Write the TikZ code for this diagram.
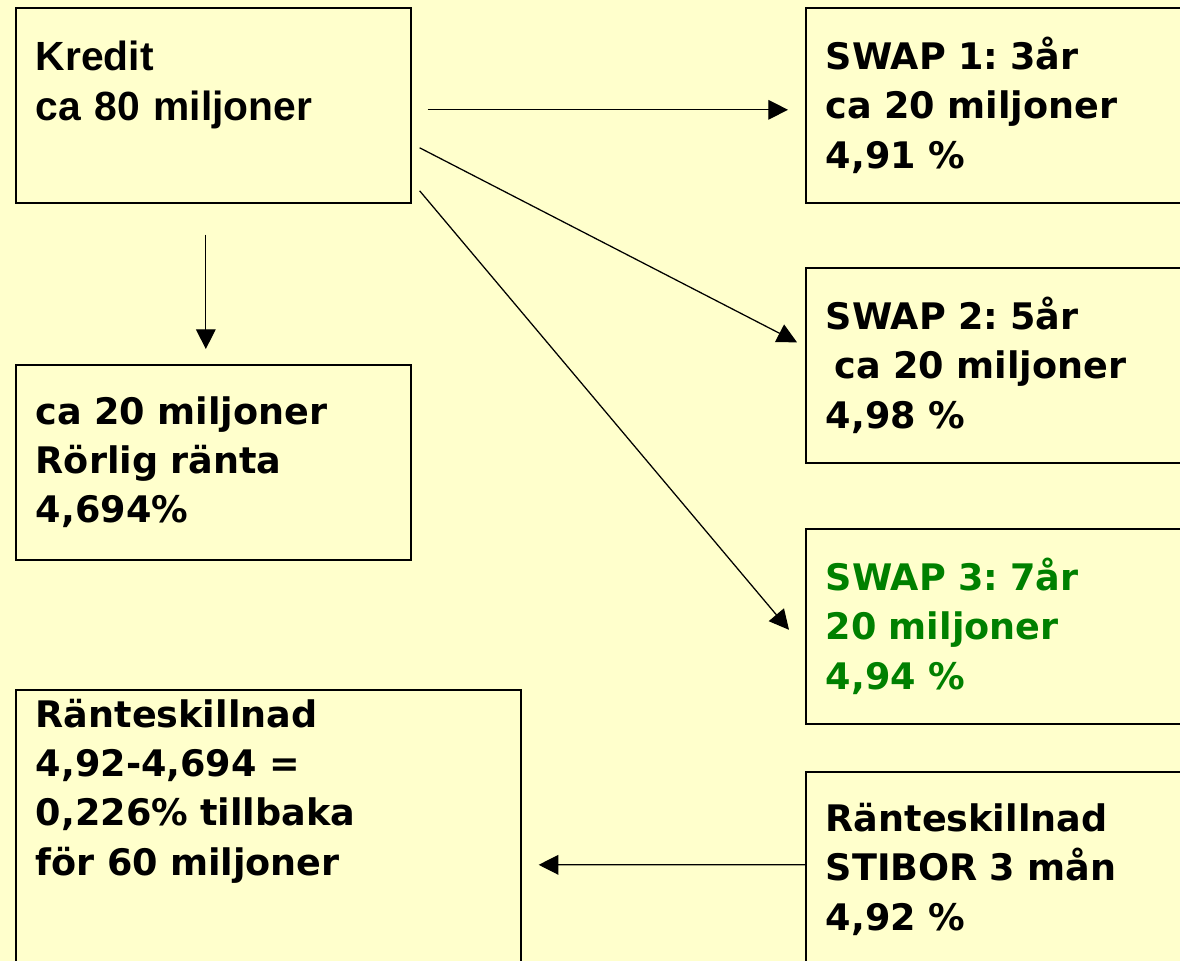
\documentclass[tikz,border=0pt]{standalone}
\usepackage{fontspec}
\setmainfont{DejaVu Sans}
\newfontfamily\kreditfont{Liberation Sans}
\usetikzlibrary{arrows.meta}
\definecolor{paper}{RGB}{255,255,204}
\definecolor{swapgreen}{RGB}{0,128,0}
\frenchspacing

\begin{document}
\begin{tikzpicture}[
    x=0.025cm, y=-0.025cm,
    box/.style={
        rectangle,
        draw=black,
        fill=paper,
        line width=1.1pt,
        anchor=north west,
        inner xsep=0.5cm,
        inner ysep=0pt,
        minimum height=4.875cm,
        text width=9cm,
        align=left,
        font=\fontsize{26}{35}\selectfont\bfseries
    },
    arrow/.style={-{Triangle[length=14pt,width=14pt]}, line width=0.9pt}
]

\fill[paper] (0,0) rectangle (1180,961);
\useasboundingbox (0,0) rectangle (1180,961);

\node[box, text width=8.875cm,
      font=\kreditfont\fontsize{29}{35.6}\selectfont\bfseries] (kredit) at (15,7)
    {Kredit\\ca 80 miljoner\\ \mbox{}};

\node[box] (swapA) at (805,7) {SWAP 1: 3år\\ca 20 miljoner\\4,91 \%};
\node[box] (swapB) at (805,267) {SWAP 2: 5år\\\hspace{0.25em}ca 20 miljoner\\4,98 \%};
\node[box, text=swapgreen] (swapC) at (805,528) {SWAP 3: 7år\\20 miljoner\\4,94 \%};

\node[box, text width=8.875cm] (rorlig) at (15,364) {ca 20 miljoner\\Rörlig ränta\\4,694\%};

\node[box, text width=11.625cm, minimum height=7.7cm] (diffL) at (15,689)
    {Ränteskillnad\\4,92-4,694 =\\0,226\% tillbaka\\för 60 miljoner\\ \strut\\ \strut};
\node[box] (diffR) at (805,771) {Ränteskillnad\\STIBOR 3 mån\\4,92 \%};

\draw[arrow] ([shift={(16,4.5)}]kredit.east) -- ([shift={(-17,4.5)}]swapA.west);
\draw[arrow] ([shift={(8,42.5)}]kredit.east) -- ([shift={(-8,-23)}]swapB.west);
\draw[arrow] ([shift={(8,85.5)}]kredit.east) -- ([shift={(-16,3.5)}]swapC.west);
\draw[arrow] ([shift={(-7.5,31)}]kredit.south) -- ([shift={(-7.5,-15)}]rorlig.north);
\draw[arrow] ([shift={(0,-4.5)}]diffR.west) -- ([shift={(17,21)}]diffL.east);

\end{tikzpicture}
\end{document}
